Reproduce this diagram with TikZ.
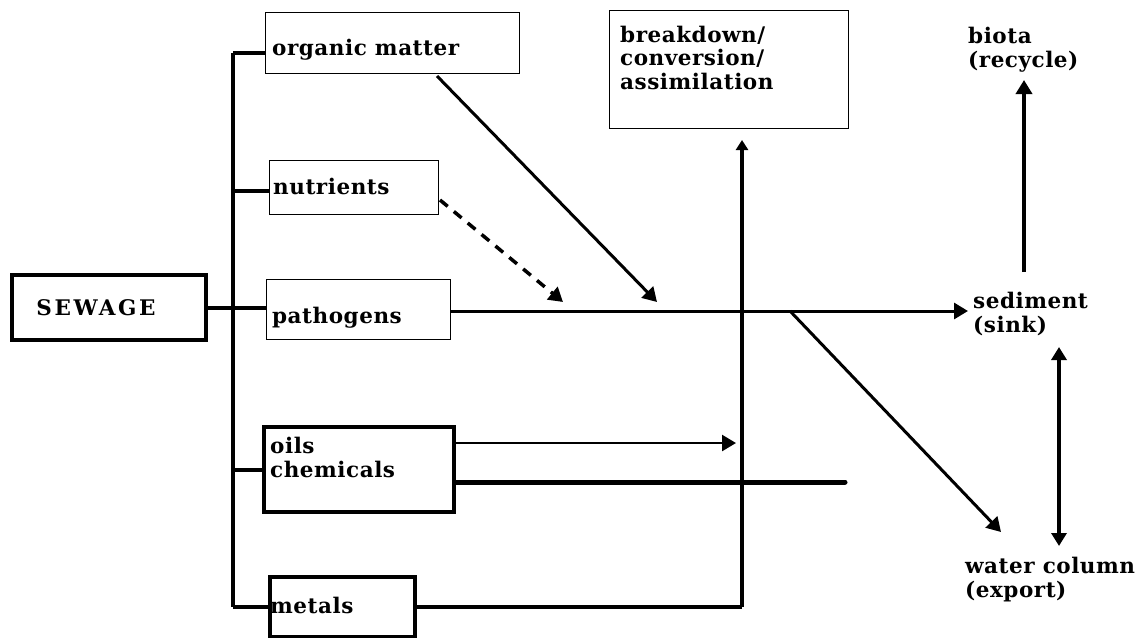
\documentclass[tikz,border=0pt]{standalone}
\usepackage{fontspec}
\newfontfamily\lbf{DejaVu Serif}[LetterSpace=2.5]
\usetikzlibrary{arrows.meta}
\tikzset{
  thinbox/.style={draw, line width=1.2pt, inner sep=0pt, anchor=north west},
  thickbox/.style={draw, line width=3.5pt, inner sep=0pt, anchor=north west},
  lbl/.style={font=\lbf\bfseries\fontsize{21.5}{23.5}\selectfont, anchor=base west, inner sep=0pt, align=left},
  conn/.style={line width=3.5pt},
  arr/.style={line width=3pt, -{Triangle[length=14pt,width=16pt]}},
}
\begin{document}
\begin{tikzpicture}[x=1pt,y=-1pt]
\useasboundingbox (0,0) rectangle (1147,637);
% boxes
\node[thickbox, minimum width=194pt, minimum height=65pt] (sewage) at (10,273) {};
\node[thinbox, minimum width=254pt, minimum height=61pt] (org) at (265,12) {};
\node[thinbox, minimum width=169pt, minimum height=54pt] (nut) at (269,160) {};
\node[thinbox, minimum width=184pt, minimum height=60pt] (path) at (266,279) {};
\node[thickbox, minimum width=190pt, minimum height=85pt] (oils) at (262,425) {};
\node[thickbox, minimum width=145pt, minimum height=60pt] (met) at (268,575) {};
\node[thinbox, minimum width=239pt, minimum height=118pt] (brk) at (609,10) {};
% texts (multi-line texts are anchored at the baseline of their last line)
\node[lbl, anchor=base] (tsew) at (96,315) {\addfontfeature{LetterSpace=12}SEWAGE};
\node[lbl] (torg) at (272,55) {organic matter};
\node[lbl] (tnut) at (273,194) {nutrients};
\node[lbl] (tpath) at (272,323) {pathogens};
\node[lbl] (toils) at (270,477) {oils\\chemicals};
\node[lbl] (tmet) at (270,613) {metals};
\node[lbl] (tbrk) at (620,89) {breakdown/\\conversion/\\assimilation};
\node[lbl] (tbio) at (968,67) {biota\\(recycle)};
\node[lbl] (tsed) at (973,332) {sediment\\(sink)};
\node[lbl] (twat) at (965,597) {water column\\(export)};
% trunk
\coordinate (t1) at (233,53);
\coordinate (t2) at (233,191);
\coordinate (t3) at (233,308);
\coordinate (t4) at (233,470);
\coordinate (t5) at (233,607);
\draw[conn, line width=4pt] (t1) -- (t5);
\draw[conn] (t1) -- (t1 -| org.west);
\draw[conn] (t2) -- (t2 -| nut.west);
\draw[conn] (sewage.east |- t3) -- (t3 -| path.west);
\draw[conn] (t4) -- (t4 -| oils.west);
\draw[conn] (t5) -- (t5 -| met.west);
% main pathogens line
\coordinate (p0) at (451,311);
\coordinate (psed) at (968,311);
\draw[arr] (p0) -- (psed);
% vertical to breakdown
\coordinate (v0) at (742,607);
\coordinate (vtop) at (742,140);
\draw[conn, line width=3.5pt] (met.east |- v0) -- (v0);
\draw[arr, line width=3.5pt, -{Triangle[length=10pt,width=12pt]}] (v0) -- (vtop);
% oils lines
\coordinate (o1) at (452,443);
\coordinate (o1e) at (736,443);
\draw[arr, line width=2.5pt] (o1) -- (o1e);
\coordinate (o2) at (455,482);
\coordinate (o2e) at (845,482);
\draw[line width=5pt, line cap=round] (o2) -- (o2e);
% organic matter arrow
\coordinate (om0) at (437,76);
\coordinate (om1) at (657,302);
\draw[arr] (om0) -- (om1);
% nutrients dashed arrow
\coordinate (n0) at (440,200);
\coordinate (n1) at (563,302);
\draw[arr, line width=3.5pt, dash pattern=on 10pt off 8pt] (n0) -- (n1);
% diagonal to water column
\coordinate (d0) at (790,311);
\coordinate (d1) at (1001,532);
\draw[arr] (d0) -- (d1);
% biota arrow
\coordinate (b0) at (1024,272);
\coordinate (b1) at (1024,80);
\draw[arr, line width=4pt] (b0) -- (b1);
% sediment <-> water column
\coordinate (s0) at (1059,347);
\coordinate (s1) at (1059,546);
\draw[line width=4pt, {Triangle[length=13pt,width=15pt]}-{Triangle[length=13pt,width=15pt]}] (s0) -- (s1);
\end{tikzpicture}
\end{document}
